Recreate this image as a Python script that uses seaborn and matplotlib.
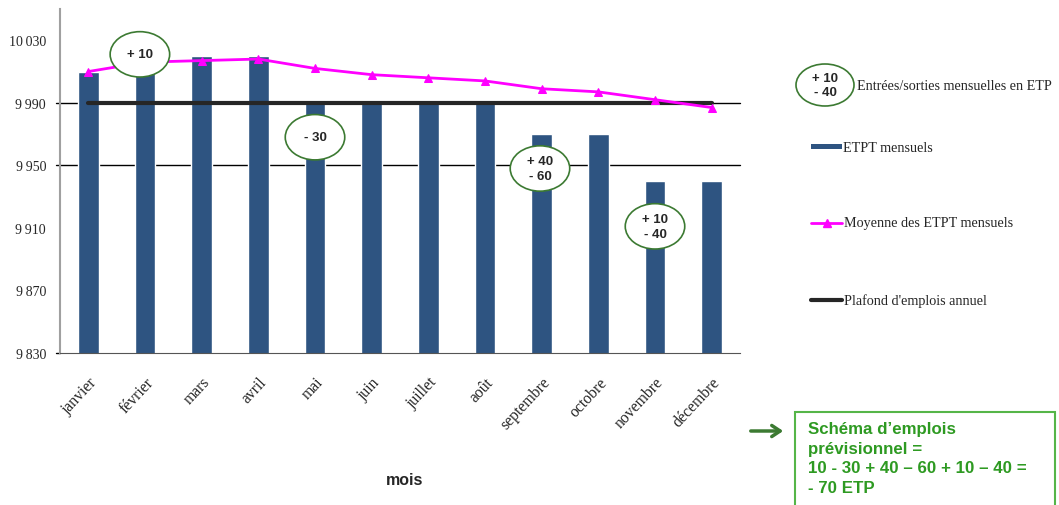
import numpy as np
import matplotlib.pyplot as plt
import seaborn as sns
from matplotlib.patches import Ellipse, Rectangle, FancyArrowPatch
from matplotlib.lines import Line2D

# Data
mois = ["janvier", "février", "mars", "avril", "mai", "juin", "juillet",
        "août", "septembre", "octobre", "novembre", "décembre"]
etpt_mensuels = [10010, 10020, 10020, 10020, 9990, 9990, 9990, 9990,
                 9970, 9970, 9940, 9940]
moyenne_etpt = [10010, 10016, 10017, 10018, 10012, 10008, 10006, 10004,
                9999, 9997, 9992, 9987]
plafond = 9990
y_ticks = [9830, 9870, 9910, 9950, 9990, 10030]
y_tick_labels = ["9\u2009830", "9\u2009870", "9\u2009910", "9\u2009950",
                 "9\u2009990", "10\u2009030"]
# entrées/sorties: (month index, label, centre x, centre y)
mouvements = [(1, "+ 10", 0.91, 10021),
              (4, "- 30", 4.0, 9968),
              (8, "+ 40\n- 60", 7.97, 9948),
              (10, "+ 10\n- 40", 10.0, 9911)]

W, H = 1059, 506
bar_color = "#2E5481"
pink = "#FF00FF"
green_dark = "#3C7A32"
green_txt = "#2E9A22"

sns.set_style("white")
plt.rcParams["font.family"] = ["Liberation Serif", "DejaVu Serif"]

fig = plt.figure(figsize=(W / 100, H / 100), dpi=100)
ax = fig.add_axes([60 / W, 1 - 354 / H, 680 / W, 344 / H])


def px(x, y):
    return x / W, 1 - y / H


sns.barplot(x=mois, y=etpt_mensuels, color=bar_color, width=0.36,
            saturation=1, ax=ax, zorder=2)
sns.lineplot(x=np.arange(len(mois)), y=[plafond] * len(mois), color="#262626",
             lw=3, ax=ax, zorder=3)
sns.lineplot(x=np.arange(len(mois)), y=moyenne_etpt, color=pink, lw=2,
             marker="^", markersize=6, markeredgecolor=pink, ax=ax, zorder=4)

ax.set_xlim(-0.5, 11.5)
ax.set_ylim(9830, 10050)
ax.set_yticks(y_ticks)
ax.set_yticklabels(y_tick_labels, fontsize=10)
ax.tick_params(axis="y", length=0, pad=10)
ax.set_xticks(np.arange(len(mois)))
ax.set_xticklabels(mois, rotation=47, ha="right", rotation_mode="anchor",
                   fontsize=11.3)
ax.tick_params(axis="x", length=0, pad=15)
ax.set_xticks(np.arange(-0.5, 12, 1), minor=True)
ax.tick_params(axis="x", which="minor", length=5, color="#555555")
ax.set_xlabel("")
ax.set_ylabel("")

for y in [9990, 9950]:
    ax.axhline(y, xmin=-0.006, xmax=1, color="black", lw=1, clip_on=False,
               zorder=1)
ax.axhline(9830, xmin=-0.006, xmax=0, color="black", lw=1, clip_on=False)

for side in ["top", "right"]:
    ax.spines[side].set_visible(False)
ax.spines["left"].set_color("#A0A0A0")
ax.spines["left"].set_linewidth(1.5)
ax.spines["bottom"].set_color("#555555")

# circled monthly in/out annotations
for _, label, cx, cy in mouvements:
    ax.add_patch(Ellipse((cx, cy), 1.05, 29, facecolor="white",
                         edgecolor=green_dark, lw=1.2, zorder=6))
    ax.text(cx, cy, label, ha="center", va="center", fontsize=9.5,
            fontweight="bold", family="Liberation Sans", linespacing=1.3,
            zorder=7)

fig.text(*px(405, 481), "mois", ha="center", va="center", fontsize=11.5,
         fontweight="bold", family="Liberation Sans")

# legend drawn at the right
fig.add_artist(Ellipse(px(825, 86), 58 / W, 42 / H, facecolor="white",
                       edgecolor=green_dark, lw=1.2))
fig.text(*px(825, 86), "+ 10\n- 40", ha="center", va="center", fontsize=9.5,
         fontweight="bold", family="Liberation Sans", linespacing=1.3)
fig.text(*px(857, 86), "Entrées/sorties mensuelles en ETP", ha="left",
         va="center", fontsize=10.2)

fig.add_artist(Rectangle(px(811, 150), 31 / W, 5 / H, facecolor=bar_color,
                         edgecolor="none"))
fig.text(*px(843, 148), "ETPT mensuels", ha="left", va="center",
         fontsize=10.2)

x0, y0 = px(811, 224)
x1, _ = px(842, 224)
fig.add_artist(Line2D([x0, x1], [y0, y0], color=pink, lw=2))
fig.add_artist(Line2D([(x0 + x1) / 2], [y0], color=pink, marker="^",
                      markersize=6, lw=0))
fig.text(*px(844, 224), "Moyenne des ETPT mensuels", ha="left", va="center",
         fontsize=10.2)

x0, y0 = px(811, 301)
x1, _ = px(842, 301)
fig.add_artist(Line2D([x0, x1], [y0, y0], color="#262626", lw=3))
fig.text(*px(844, 301), "Plafond d'emplois annuel", ha="left", va="center",
         fontsize=10.2)

# green summary box
fig.add_artist(Rectangle(px(795, 520), 260 / W, 107 / H, facecolor="white",
                         edgecolor="#55B548", lw=1.5))
fig.text(*px(808, 459), "Schéma d\u2019emplois\nprévisionnel =\n"
         "10 - 30 + 40 \u2013 60 + 10 \u2013 40 =\n- 70 ETP",
         ha="left", va="center", fontsize=12.2, fontweight="bold",
         color=green_txt, family="Liberation Sans", linespacing=1.4)
fig.add_artist(FancyArrowPatch(px(748, 432), px(786, 432),
                               arrowstyle="->,head_length=6,head_width=4",
                               color=green_dark, lw=2.5, mutation_scale=1))

fig.savefig("out.png", dpi=100)
